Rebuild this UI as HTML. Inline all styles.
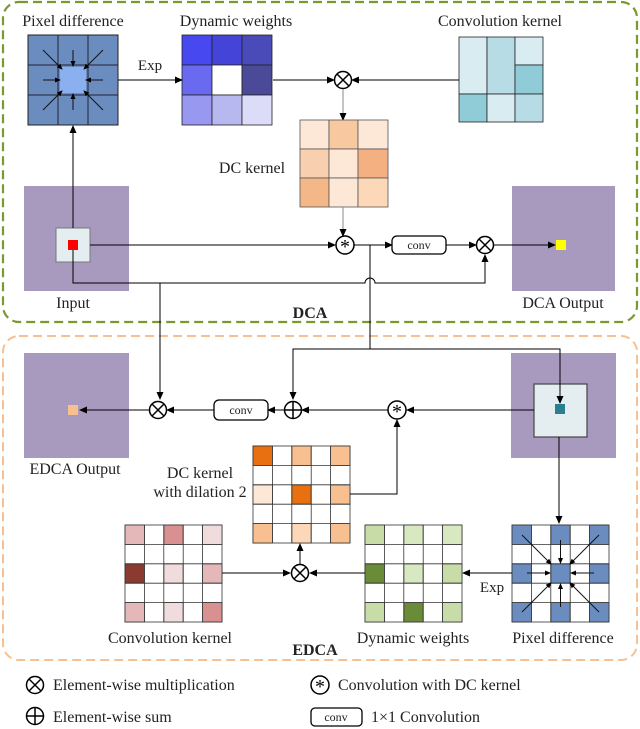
<!DOCTYPE html><html><head><meta charset="utf-8"><style>body{margin:0;background:#fff}svg{display:block}text{font-family:"Liberation Serif",serif;fill:#222}</style></head><body>
<svg width="640" height="729" viewBox="0 0 640 729" xmlns="http://www.w3.org/2000/svg">
<defs>
<marker id="a" markerWidth="8" markerHeight="8" refX="7" refY="4" orient="auto" markerUnits="userSpaceOnUse"><path d="M0,0.5L8,4L0,7.5z" fill="#000"/></marker>
<marker id="s" markerWidth="6" markerHeight="6" refX="5" refY="3" orient="auto" markerUnits="userSpaceOnUse"><path d="M0,0.5L6,3L0,5.5z" fill="#000"/></marker>
<g id="mul"><circle r="8.5" fill="#fff" stroke="#000" stroke-width="1.5"/><path d="M-6,-6L6,6M6,-6L-6,6" stroke="#000" stroke-width="1.5"/></g>
<g id="sum"><circle r="8.5" fill="#fff" stroke="#000" stroke-width="1.5"/><path d="M-8.5,0H8.5M0,-8.5V8.5" stroke="#000" stroke-width="1.5"/></g>
<g id="cv"><circle r="9" fill="#fff" stroke="#000" stroke-width="1.5"/><text x="0" y="8" text-anchor="middle" font-size="20" style="fill:#000">*</text></g>
</defs>
<rect x="3" y="2" width="634" height="320" rx="16" fill="none" stroke="#7a9a30" stroke-width="2.2" stroke-dasharray="9,5"/>
<rect x="3" y="336" width="634" height="324" rx="16" fill="none" stroke="#f8c090" stroke-width="2" stroke-dasharray="9,5"/>

<rect x="28" y="35" width="90" height="90" fill="#6a8cbf" stroke="#222"/>
<path d="M58,35V125M88,35V125M28,65H118M28,95H118" stroke="#223" stroke-width="1"/>
<rect x="60" y="67" width="26" height="26" fill="#8ab0f0"/>
<g stroke="#111" stroke-width="1" marker-end="url(#s)">
<path d="M43,50L62,69"/><path d="M73,50L73,66"/><path d="M103,50L84,69"/><path d="M43,80L60,80"/><path d="M103,80L86,80"/><path d="M43,110L62,91"/><path d="M73,110L73,94"/><path d="M103,110L84,91"/></g>
<text x="73" y="26" text-anchor="middle" font-size="16">Pixel difference</text>
<g stroke="#222" stroke-width="0.8">
<rect x="182" y="35" width="30" height="30" fill="#4848f0"/><rect x="212" y="35" width="30" height="30" fill="#4444d8"/><rect x="242" y="35" width="30" height="30" fill="#4a4ab8"/>
<rect x="182" y="65" width="30" height="30" fill="#6a6af0"/><rect x="212" y="65" width="30" height="30" fill="#fff"/><rect x="242" y="65" width="30" height="30" fill="#4a4a98"/>
<rect x="182" y="95" width="30" height="30" fill="#9898f0"/><rect x="212" y="95" width="30" height="30" fill="#b8b8f0"/><rect x="242" y="95" width="30" height="30" fill="#dcdcf8"/></g>
<text x="236" y="26" text-anchor="middle" font-size="16">Dynamic weights</text>
<path d="M118,80H182" stroke="#000" marker-end="url(#a)"/>
<text x="150" y="70" text-anchor="middle" font-size="15">Exp</text>
<path d="M273,80H334" stroke="#000" marker-end="url(#a)"/>
<use href="#mul" x="343" y="80"/>
<g stroke="#222" stroke-width="0.8">
<rect x="459" y="37" width="28" height="57" fill="#d8ecf2"/><rect x="487" y="37" width="28" height="57" fill="#b8dce6"/><rect x="515" y="37" width="28" height="28" fill="#d8ecf2"/><rect x="515" y="65" width="28" height="29" fill="#90ccd8"/>
<rect x="459" y="94" width="28" height="28" fill="#90ccd8"/><rect x="487" y="94" width="28" height="28" fill="#d8ecf2"/><rect x="515" y="94" width="28" height="28" fill="#b8dce6"/></g>
<text x="500" y="26" text-anchor="middle" font-size="16">Convolution kernel</text>
<path d="M459,80H352" stroke="#000" marker-end="url(#a)"/>
<path d="M343,89V120" stroke="#888" marker-end="url(#a)"/>
<g stroke="#555" stroke-width="0.8">
<rect x="300" y="120" width="29" height="29" fill="#fde8d8"/><rect x="329" y="120" width="29" height="29" fill="#f8c8a0"/><rect x="358" y="120" width="30" height="29" fill="#fde8d8"/>
<rect x="300" y="149" width="29" height="29" fill="#f8d0b0"/><rect x="329" y="149" width="29" height="29" fill="#fde8d8"/><rect x="358" y="149" width="30" height="29" fill="#f4b080"/>
<rect x="300" y="178" width="29" height="29" fill="#f4b888"/><rect x="329" y="178" width="29" height="29" fill="#fde8d8"/><rect x="358" y="178" width="30" height="29" fill="#fcd8b8"/></g>
<text x="252" y="173" text-anchor="middle" font-size="16">DC kernel</text>
<path d="M343,207V236" stroke="#888" marker-end="url(#a)"/>
<rect x="24" y="186" width="105" height="105" fill="#a899bf"/>
<rect x="56" y="228" width="34" height="34" fill="#e4eef0" stroke="#777"/>
<rect x="68" y="240" width="10" height="10" fill="#f00"/>
<text x="73" y="308" text-anchor="middle" font-size="16">Input</text>
<path d="M73,228V126" stroke="#000" marker-end="url(#a)"/>
<path d="M90,245H335" stroke="#000" marker-end="url(#a)"/>
<use href="#cv" x="345" y="245"/>
<path d="M73,250V283H365A5,5 0 0 1 375,283H485V255" stroke="#000" fill="none" marker-end="url(#a)"/>
<path d="M160,283V399" stroke="#000" marker-end="url(#a)"/>
<path d="M354,245H392" stroke="#000" marker-end="url(#a)"/>
<rect x="392" y="236" width="54" height="18" rx="5" fill="#fff" stroke="#000" stroke-width="1.3"/>
<text x="419" y="249" text-anchor="middle" font-size="12">conv</text>
<path d="M446,245H476" stroke="#000" marker-end="url(#a)"/>
<use href="#mul" x="485" y="245"/>
<rect x="512" y="186" width="103" height="105" fill="#a899bf"/>
<path d="M494,245H555" stroke="#000" marker-end="url(#a)"/>
<rect x="556" y="240" width="10" height="10" fill="#ff0"/>
<text x="563" y="308" text-anchor="middle" font-size="16">DCA Output</text>
<text x="310" y="318" text-anchor="middle" font-size="16" font-weight="bold">DCA</text>
<path d="M370,245V349H293V399" stroke="#000" fill="none" marker-end="url(#a)"/>

<rect x="511" y="353" width="105" height="105" fill="#a899bf"/>
<rect x="534" y="384" width="53" height="53" fill="#e4eef0" stroke="#444" stroke-width="1.2"/>
<rect x="555" y="404" width="10" height="10" fill="#2a7e90"/>
<path d="M370,349H560V403" stroke="#000" fill="none" marker-end="url(#a)"/>
<path d="M534,410H407" stroke="#000" marker-end="url(#a)"/>
<use href="#cv" x="397" y="410"/>
<path d="M388,410H302" stroke="#000" marker-end="url(#a)"/>
<use href="#sum" x="293" y="410"/>
<path d="M284,410H268" stroke="#000" marker-end="url(#a)"/>
<rect x="214" y="400" width="54" height="20" rx="5" fill="#fff" stroke="#000" stroke-width="1.3"/>
<text x="241" y="414" text-anchor="middle" font-size="12">conv</text>
<path d="M214,410H167" stroke="#000" marker-end="url(#a)"/>
<use href="#mul" x="158" y="410"/>
<rect x="24" y="353" width="105" height="105" fill="#a899bf"/>
<path d="M149,410H80" stroke="#000" marker-end="url(#a)"/>
<rect x="68" y="405" width="10" height="10" fill="#f8c090"/>
<text x="75" y="474" text-anchor="middle" font-size="16">EDCA Output</text>
<g stroke="#333" stroke-width="0.8" fill="#fff">
<rect x="253" y="446" width="97" height="97"/>
<rect x="253" y="446" width="19.4" height="19.4" fill="#e87010"/><rect x="291.8" y="446" width="19.4" height="19.4" fill="#f8c090"/><rect x="330.6" y="446" width="19.4" height="19.4" fill="#f8c090"/>
<rect x="253" y="484.8" width="19.4" height="19.4" fill="#fde8d8"/><rect x="291.8" y="484.8" width="19.4" height="19.4" fill="#e87010"/><rect x="330.6" y="484.8" width="19.4" height="19.4" fill="#f8c090"/>
<rect x="253" y="523.6" width="19.4" height="19.4" fill="#f8c090"/><rect x="291.8" y="523.6" width="19.4" height="19.4" fill="#fcd8b8"/><rect x="330.6" y="523.6" width="19.4" height="19.4" fill="#f8c090"/>
<path d="M253,465.4H350M253,484.8H350M253,504.2H350M253,523.6H350M272.4,446V543M291.8,446V543M311.2,446V543M330.6,446V543" fill="none"/></g>
<text x="200" y="478" text-anchor="middle" font-size="16">DC kernel</text>
<text x="200" y="497" text-anchor="middle" font-size="16">with dilation 2</text>
<path d="M350,494H397V420" stroke="#000" fill="none" marker-end="url(#a)"/>
<g stroke="#333" stroke-width="0.8" fill="#fff">
<rect x="125" y="525" width="97" height="97"/>
<rect x="125" y="525" width="19.4" height="19.4" fill="#e4b8b8"/><rect x="163.8" y="525" width="19.4" height="19.4" fill="#d89090"/><rect x="202.6" y="525" width="19.4" height="19.4" fill="#f0dcdc"/>
<rect x="125" y="563.8" width="19.4" height="19.4" fill="#8b3a30"/><rect x="163.8" y="563.8" width="19.4" height="19.4" fill="#f0dcdc"/><rect x="202.6" y="563.8" width="19.4" height="19.4" fill="#e4b8b8"/>
<rect x="125" y="602.6" width="19.4" height="19.4" fill="#e4b8b8"/><rect x="163.8" y="602.6" width="19.4" height="19.4" fill="#f0dcdc"/><rect x="202.6" y="602.6" width="19.4" height="19.4" fill="#d89090"/>
<path d="M125,544.4H222M125,563.8H222M125,583.2H222M125,602.6H222M144.4,525V622M163.8,525V622M183.2,525V622M202.6,525V622" fill="none"/></g>
<path d="M222,573H290" stroke="#000" marker-end="url(#a)"/>
<use href="#mul" x="300" y="573"/>
<path d="M300,564V544" stroke="#000" marker-end="url(#a)"/>
<g stroke="#333" stroke-width="0.8" fill="#fff">
<rect x="365" y="525" width="97" height="97"/>
<rect x="365" y="525" width="19.4" height="19.4" fill="#c8dca8"/><rect x="403.8" y="525" width="19.4" height="19.4" fill="#d8e8c0"/><rect x="442.6" y="525" width="19.4" height="19.4" fill="#d8e8c0"/>
<rect x="365" y="563.8" width="19.4" height="19.4" fill="#6a8c38"/><rect x="403.8" y="563.8" width="19.4" height="19.4" fill="#d8e8c0"/><rect x="442.6" y="563.8" width="19.4" height="19.4" fill="#c8dca8"/>
<rect x="365" y="602.6" width="19.4" height="19.4" fill="#c8dca8"/><rect x="403.8" y="602.6" width="19.4" height="19.4" fill="#6a8c38"/><rect x="442.6" y="602.6" width="19.4" height="19.4" fill="#c8dca8"/>
<path d="M365,544.4H462M365,563.8H462M365,583.2H462M365,602.6H462M384.4,525V622M403.8,525V622M423.2,525V622M442.6,525V622" fill="none"/></g>
<path d="M365,573H310" stroke="#000" marker-end="url(#a)"/>
<g stroke="#333" stroke-width="0.8" fill="#fff">
<rect x="512" y="525" width="97" height="97"/>
<rect x="512" y="525" width="19.4" height="19.4" fill="#6a8cbf"/><rect x="550.8" y="525" width="19.4" height="19.4" fill="#6a8cbf"/><rect x="589.6" y="525" width="19.4" height="19.4" fill="#6a8cbf"/>
<rect x="512" y="563.8" width="19.4" height="19.4" fill="#6a8cbf"/><rect x="550.8" y="563.8" width="19.4" height="19.4" fill="#6a8cbf"/><rect x="589.6" y="563.8" width="19.4" height="19.4" fill="#6a8cbf"/>
<rect x="512" y="602.6" width="19.4" height="19.4" fill="#6a8cbf"/><rect x="550.8" y="602.6" width="19.4" height="19.4" fill="#6a8cbf"/><rect x="589.6" y="602.6" width="19.4" height="19.4" fill="#6a8cbf"/>
<path d="M512,544.4H609M512,563.8H609M512,583.2H609M512,602.6H609M531.4,525V622M550.8,525V622M570.2,525V622M589.6,525V622" fill="none"/></g>
<g stroke="#111" stroke-width="1" marker-end="url(#s)">
<path d="M522,535L551,564"/><path d="M599,535L570,564"/><path d="M522,612L551,583"/><path d="M599,612L570,583"/>
<path d="M527,573L550,573"/><path d="M594,573L571,573"/><path d="M560.5,540V563"/><path d="M560.5,607V584"/></g>
<path d="M559,437V523" stroke="#000" marker-end="url(#a)"/>
<path d="M512,573H463" stroke="#000" marker-end="url(#a)"/>
<text x="492" y="592" text-anchor="middle" font-size="15">Exp</text>
<text x="170" y="643" text-anchor="middle" font-size="16">Convolution kernel</text>
<text x="413" y="643" text-anchor="middle" font-size="16">Dynamic weights</text>
<text x="563" y="643" text-anchor="middle" font-size="16">Pixel difference</text>
<text x="315" y="655" text-anchor="middle" font-size="16" font-weight="bold">EDCA</text>
<use href="#mul" x="35" y="685"/>
<text x="53" y="690" font-size="16">Element-wise multiplication</text>
<use href="#cv" x="320" y="685"/>
<text x="338" y="690" font-size="16">Convolution with DC kernel</text>
<use href="#sum" x="35" y="716"/>
<text x="53" y="722" font-size="16">Element-wise sum</text>
<rect x="311" y="708" width="51" height="18" rx="4" fill="#fff" stroke="#000" stroke-width="1.3"/>
<text x="336" y="721" text-anchor="middle" font-size="12">conv</text>
<text x="371" y="722" font-size="16">1×1 Convolution</text>
</svg></body></html>
